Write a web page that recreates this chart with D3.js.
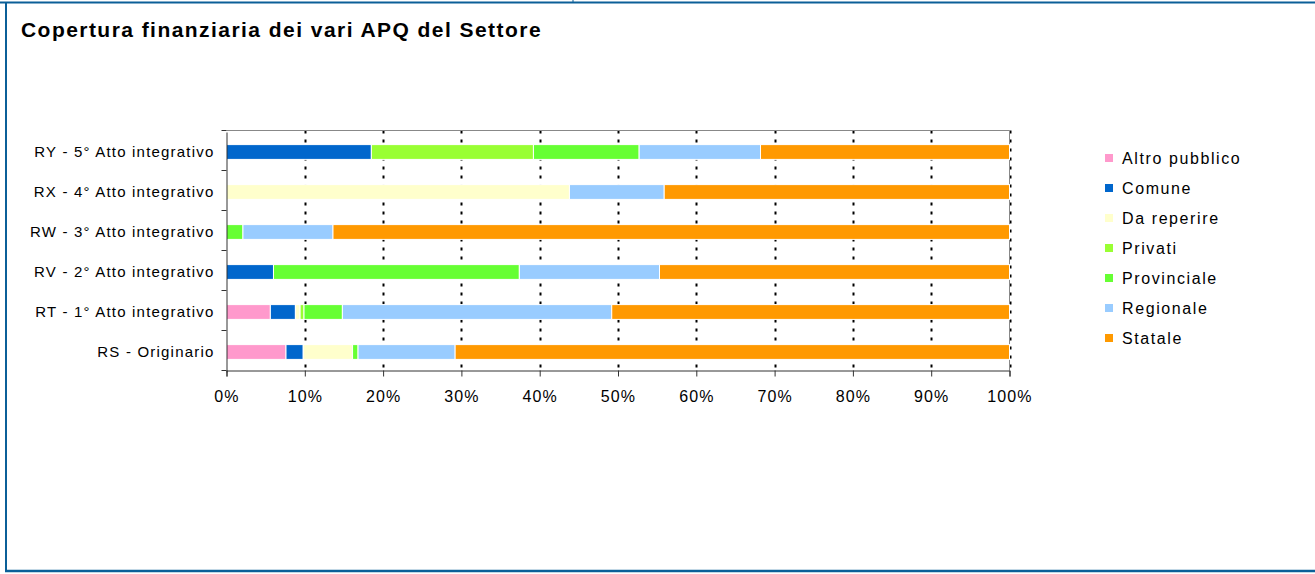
<!DOCTYPE html>
<html>
<head>
<meta charset="utf-8">
<script src="https://cdn.jsdelivr.net/npm/d3@7"></script>
<style>
  body { margin: 0; background: #fff; }
  svg { display: block; font-family: "Liberation Sans", Arial, sans-serif; }
</style>
</head>
<body>
<div id="chart"></div>
<script>
// categories, top to bottom
const categories = [
    "RY - 5° Atto integrativo",
    "RX - 4° Atto integrativo",
    "RW - 3° Atto integrativo",
    "RV - 2° Atto integrativo",
    "RT - 1° Atto integrativo",
    "RS - Originario"
];
const series = ["Altro pubblico", "Comune", "Da reperire", "Privati", "Provinciale", "Regionale", "Statale"];
const colors = ["#ff99cc", "#0066cc", "#ffffcc", "#99ff33", "#66ff33", "#99ccff", "#ff9900"];

// percent share of each source, same order as categories
const altroPubblico = [0, 0, 0, 0, 5.6, 7.6];
const comune        = [18.5, 0, 0, 6.0, 3.2, 2.2];
const daReperire    = [0, 43.8, 0, 0, 0.6, 6.3];
const privati       = [20.7, 0, 0, 0, 0.5, 0];
const provinciale   = [13.5, 0, 2.1, 31.4, 4.9, 0.7];
const regionale     = [15.5, 12.1, 11.5, 17.9, 34.4, 12.4];
const statale       = [31.8, 44.1, 86.4, 44.7, 50.8, 70.8];

const xTicks = [0, 0.1, 0.2, 0.3, 0.4, 0.5, 0.6, 0.7, 0.8, 0.9, 1];

const seriesValues = [altroPubblico, comune, daReperire, privati, provinciale, regionale, statale];
const table = categories.map((c, i) => {
    const row = { cat: c };
    series.forEach((s, j) => row[s] = seriesValues[j][i]);
    return row;
});

const width = 1315, height = 574;
const plot = { left: 226.5, right: 1009.5, top: 130.5, bottom: 370.5 };

const svg = d3.select("#chart").append("svg")
    .attr("width", width)
    .attr("height", height);

// outer frame (blue)
const frameColor = "#0b5f98";
svg.append("line").attr("x1", 0).attr("x2", width).attr("y1", 2.5).attr("y2", 2.5)
    .attr("stroke", frameColor).attr("stroke-width", 2);
svg.append("line").attr("x1", 573).attr("x2", 573).attr("y1", 0).attr("y2", 3)
    .attr("stroke", frameColor).attr("stroke-width", 1);
svg.append("line").attr("x1", 6).attr("x2", 6).attr("y1", 2).attr("y2", 572)
    .attr("stroke", frameColor).attr("stroke-width", 2);
svg.append("line").attr("x1", 5).attr("x2", width).attr("y1", 571).attr("y2", 571)
    .attr("stroke", frameColor).attr("stroke-width", 2.5);

svg.append("text")
    .attr("x", 21)
    .attr("y", 37)
    .style("font-size", "21px")
    .style("font-weight", "bold")
    .style("letter-spacing", "1.45px")
    .text("Copertura finanziaria dei vari APQ del Settore");

const x = d3.scaleLinear().domain([0, 1]).range([plot.left, plot.right]);
const y = d3.scaleBand().domain(categories)
    .range([plot.top + 1.5, plot.bottom + 1.5])
    .paddingInner(0.63).paddingOuter(0.315);

// dotted gridlines
svg.append("g")
    .selectAll("line")
    .data(xTicks.slice(1))
    .join("line")
    .attr("x1", d => Math.round(x(d)) + 0.5)
    .attr("x2", d => Math.round(x(d)) + 0.5)
    .attr("y1", plot.top)
    .attr("y2", plot.bottom)
    .attr("stroke", "#000")
    .attr("stroke-width", 2)
    .attr("stroke-dasharray", "3,6");

// plot frame top / right
svg.append("path")
    .attr("d", `M${plot.left},${plot.top}H${plot.right}V${plot.bottom}`)
    .attr("fill", "none")
    .attr("stroke", "#888")
    .attr("stroke-width", 1);

// stacked bars
const stack = d3.stack().keys(series)
    .offset(d3.stackOffsetExpand);
const layers = stack(table);

svg.append("g")
    .selectAll("g")
    .data(layers)
    .join("g")
    .attr("fill", (d, i) => colors[i])
    .selectAll("rect")
    .data(d => d.filter(p => p[1] - p[0] > 0))
    .join("rect")
    .attr("x", d => x(d[0]))
    .attr("y", d => y(d.data.cat))
    .attr("width", d => x(d[1]) - x(d[0]))
    .attr("height", y.bandwidth())
    .attr("stroke", "#fff")
    .attr("stroke-width", 1);

// x axis
const xAxis = svg.append("g")
    .attr("transform", `translate(0,${plot.bottom})`)
    .call(d3.axisBottom(x).tickValues(xTicks).tickFormat(d3.format(".0%")).tickSize(6).tickPadding(14));
xAxis.select(".domain").attr("stroke", "#333");
xAxis.selectAll(".tick line").attr("stroke", "#333");
xAxis.selectAll("text")
    .style("font-size", "16px")
    .style("letter-spacing", "1.1px")
    .attr("fill", "#000")
    .attr("font-family", "Liberation Sans, Arial, sans-serif");

// y axis with ticks at band boundaries
const yAxis = svg.append("g")
    .attr("transform", `translate(${plot.left},0)`)
    .call(d3.axisLeft(y).tickSize(0).tickPadding(12));
yAxis.select(".domain").attr("stroke", "#333");
yAxis.selectAll("text")
    .style("font-size", "15px")
    .style("letter-spacing", "1.2px")
    .attr("fill", "#000")
    .attr("font-family", "Liberation Sans, Arial, sans-serif");

const step = (plot.bottom - plot.top) / categories.length;
svg.append("g")
    .selectAll("line")
    .data(d3.range(categories.length + 1))
    .join("line")
    .attr("x1", plot.left - 5)
    .attr("x2", plot.left)
    .attr("y1", i => plot.top + i * step)
    .attr("y2", i => plot.top + i * step)
    .attr("stroke", "#333");

// legend
const legend = svg.append("g")
    .selectAll("g")
    .data(series)
    .join("g")
    .attr("transform", (d, i) => `translate(1105,${158 + i * 30})`);
legend.append("rect")
    .attr("x", 0).attr("y", -4)
    .attr("width", 8).attr("height", 8)
    .attr("fill", (d, i) => colors[i]);
legend.append("text")
    .attr("x", 17)
    .attr("dy", "0.35em")
    .style("font-size", "16px")
    .style("letter-spacing", "1.6px")
    .text(d => d);
</script>
</body>
</html>
